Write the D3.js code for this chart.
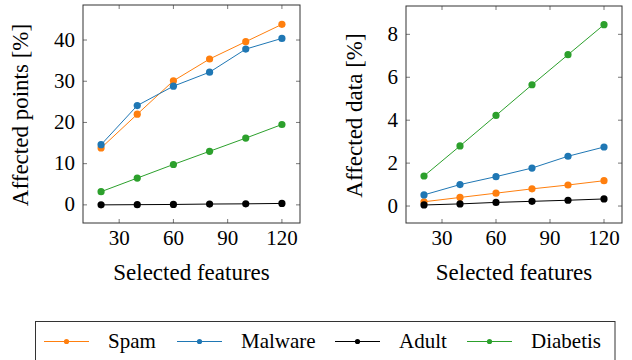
<!DOCTYPE html>
<html>
<head>
<meta charset="utf-8">
<script src="https://cdn.jsdelivr.net/npm/d3@7"></script>
<style>
  svg text { font-family: "Liberation Serif", "Times New Roman", Tinos, "Nimbus Roman", serif !important; }
</style>
</head>
<body style="margin:0">
<script>
// data
var features = [20, 40, 60, 80, 100, 120];
var seriesNames = ["Spam", "Malware", "Adult", "Diabetis"];
var seriesColors = ["#ff7f0e", "#1f77b4", "#000000", "#2ca02c"];

// left panel: affected points [%]
var pointsSpam = [13.8, 22.0, 30.1, 35.4, 39.6, 43.8];
var pointsMalware = [14.6, 24.1, 28.8, 32.2, 37.8, 40.4];
var pointsAdult = [0.0, 0.05, 0.1, 0.2, 0.25, 0.35];
var pointsDiabetis = [3.2, 6.5, 9.8, 13.0, 16.2, 19.5];

// right panel: affected data [%]
var dataSpam = [0.2, 0.4, 0.6, 0.8, 0.98, 1.18];
var dataMalware = [0.52, 1.0, 1.37, 1.77, 2.32, 2.75];
var dataAdult = [0.05, 0.1, 0.17, 0.22, 0.27, 0.33];
var dataDiabetis = [1.4, 2.8, 4.22, 5.65, 7.05, 8.45];

var xTicks = [30, 60, 90, 120];
var yTicksLeft = [0, 10, 20, 30, 40];
var yTicksRight = [0, 2, 4, 6, 8];

var FONT = "\"Liberation Serif\", \"Times New Roman\", Tinos, \"Nimbus Roman\", serif";

var svg = d3.select("body").append("svg")
    .attr("width", 632)
    .attr("height", 360);

function addText(parent, size) {
    return parent.append("text")
        .attr("font-size", size + "px")
        .attr("font-family", FONT)
        .style("font-family", FONT, "important");
}

function drawPanel(opts) {
    var x = d3.scaleLinear().domain([10, 130]).range([opts.left, opts.right]);
    var y = d3.scaleLinear().domain(opts.yDomain).range([opts.bottom, opts.top]);
    var tickLen = 4;

    // inward ticks on all sides
    xTicks.forEach(function(t) {
        svg.append("line").attr("x1", x(t)).attr("x2", x(t))
            .attr("y1", opts.bottom).attr("y2", opts.bottom - tickLen)
            .attr("stroke", "#555").attr("stroke-width", 0.8);
        svg.append("line").attr("x1", x(t)).attr("x2", x(t))
            .attr("y1", opts.top).attr("y2", opts.top + tickLen)
            .attr("stroke", "#555").attr("stroke-width", 0.8);
        addText(svg, 21).attr("x", x(t)).attr("y", opts.bottom + 22)
            .attr("text-anchor", "middle").text(t);
    });
    opts.yTicks.forEach(function(t) {
        svg.append("line").attr("x1", opts.left).attr("x2", opts.left + tickLen)
            .attr("y1", y(t)).attr("y2", y(t))
            .attr("stroke", "#555").attr("stroke-width", 0.8);
        svg.append("line").attr("x1", opts.right).attr("x2", opts.right - tickLen)
            .attr("y1", y(t)).attr("y2", y(t))
            .attr("stroke", "#555").attr("stroke-width", 0.8);
        addText(svg, 21).attr("x", opts.left - 8).attr("y", y(t) + 6.5)
            .attr("text-anchor", "end").text(t);
    });

    var line = d3.line().x(function(d, i) { return x(features[i]); }).y(function(d) { return y(d); });
    opts.series.forEach(function(s, k) {
        svg.append("path").datum(s).attr("d", line)
            .attr("fill", "none").attr("stroke", seriesColors[k]).attr("stroke-width", 1);
        s.forEach(function(d, i) {
            svg.append("circle")
                .attr("cx", x(features[i]))
                .attr("cy", y(d))
                .attr("r", 3.6)
                .attr("fill", seriesColors[k]);
        });
    });

    // frame
    svg.append("rect").attr("x", opts.left).attr("y", opts.top)
        .attr("width", opts.right - opts.left).attr("height", opts.bottom - opts.top)
        .attr("fill", "none").attr("stroke", "#333").attr("stroke-width", 1);

    addText(svg, 23).attr("x", (opts.left + opts.right) / 2).attr("y", opts.bottom + 57)
        .attr("text-anchor", "middle")
        .text("Selected features");
    addText(svg, 23)
        .attr("transform", "translate(" + opts.labelX + "," + ((opts.top + opts.bottom) / 2 + 1) + ") rotate(-90)")
        .attr("text-anchor", "middle")
        .text(opts.yLabel);
}

drawPanel({
    left: 83, right: 300, top: 5, bottom: 223,
    yDomain: [-4.4, 48.5], yTicks: yTicksLeft,
    series: [pointsSpam, pointsMalware, pointsAdult, pointsDiabetis],
    yLabel: "Affected points [%]", labelX: 28
});
drawPanel({
    left: 406, right: 622, top: 6, bottom: 223,
    yDomain: [-0.79, 9.32], yTicks: yTicksRight,
    series: [dataSpam, dataMalware, dataAdult, dataDiabetis],
    yLabel: "Affected data [%]", labelX: 362
});

// legend
svg.append("rect").attr("x", 35.5).attr("y", 321.5).attr("width", 579.5).attr("height", 50)
    .attr("fill", "#fff").attr("stroke", "#333").attr("stroke-width", 1);
var legendX = [44, 177, 335, 467];
seriesNames.forEach(function(name, k) {
    var lx = legendX[k];
    svg.append("line").attr("x1", lx).attr("x2", lx + 45).attr("y1", 341.5).attr("y2", 341.5)
        .attr("stroke", seriesColors[k]).attr("stroke-width", 1);
    svg.append("circle").attr("cx", lx + 22.5).attr("cy", 341.5).attr("r", 2.6).attr("fill", seriesColors[k]);
    addText(svg, 21).attr("x", lx + 64).attr("y", 347.5).text(name);
});
</script>
</body>
</html>
